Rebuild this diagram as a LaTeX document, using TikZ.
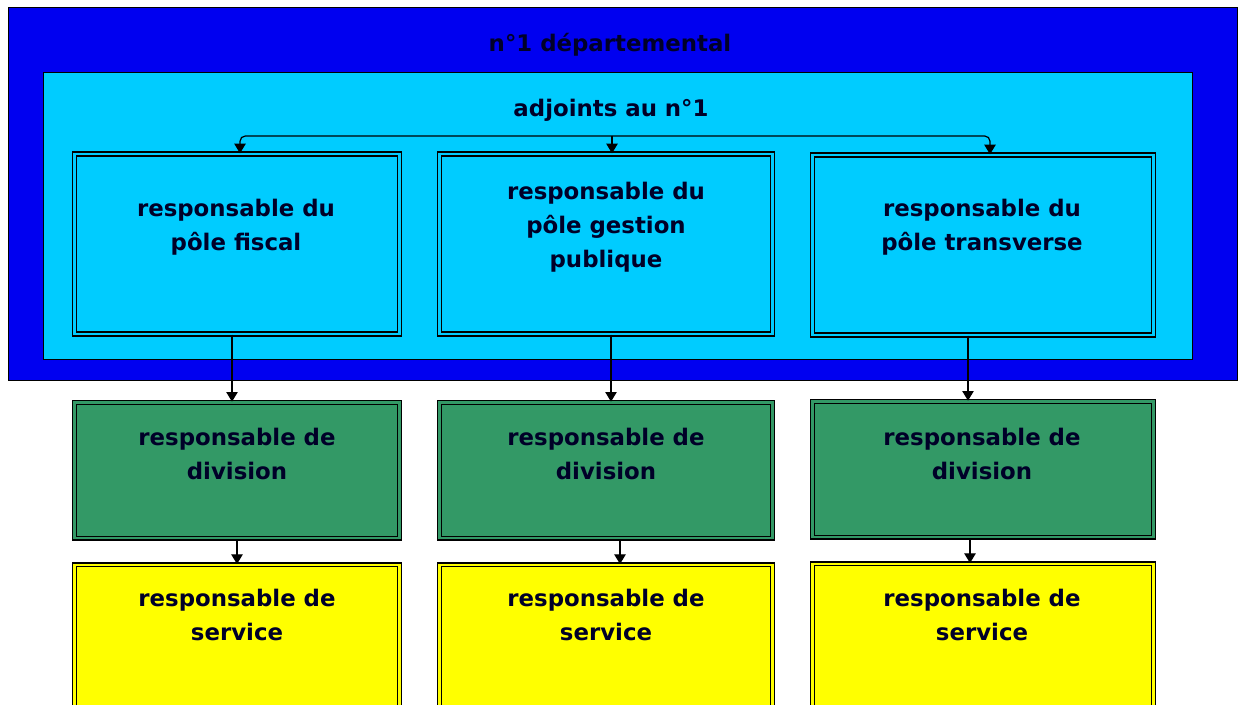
\documentclass[tikz,border=0pt]{standalone}
\usepackage{fontspec}
\setmainfont{DejaVu Sans}
\usepackage{tikz}
\usetikzlibrary{arrows.meta}
\usetikzlibrary{positioning}
\definecolor{deptblue}{RGB}{0,0,240}
\definecolor{adjcyan}{RGB}{0,204,255}
\definecolor{divgreen}{RGB}{51,153,102}
\definecolor{servyellow}{RGB}{255,255,0}
\definecolor{txtnavy}{RGB}{0,0,40}
\begin{document}
\begin{tikzpicture}[x=0.02cm,y=-0.02cm,
  every node/.style={font=\fontsize{13}{19.3}\selectfont\bfseries,text=txtnavy,align=center},
  box/.style={draw=black,line width=0.8pt,double distance=1.3pt,inner sep=0pt},
  pole/.style={box,double=adjcyan,fill=adjcyan,minimum height=3.6cm},
  div/.style={box,double=divgreen,fill=divgreen,minimum height=2.72cm},
  serv/.style={box,double=servyellow,fill=servyellow,minimum height=3.2cm},
  tri/.style={-{Triangle[length=5.5pt,width=6.5pt]},line width=0.7pt}]
  \clip (0,0) rectangle (1238,705);
  \node[draw=black,fill=deptblue,minimum width=24.58cm,minimum height=7.46cm,inner sep=0pt] (dept) at (622.5,193.5){};
  \node[draw=black,fill=adjcyan,minimum width=22.98cm,minimum height=5.74cm,inner sep=0pt] (adj) at (617.5,215.5){};
  \node (tdept) at (610,45){n°1 départemental};
  \node (tadj) at (611,110){adjoints au n°1};

  % poles
  \node[pole,minimum width=6.5cm] (pfisc) at (237,244){};
  \node[pole,minimum width=6.66cm] (pgest) at (606,244){};
  \node[pole,minimum width=6.82cm] (ptrans) at (983,245){};
  % divisions
  \node[div,minimum width=6.5cm,below=1.34cm of pfisc] (dfisc){};
  \node[div,minimum width=6.66cm,below=1.34cm of pgest] (dgest){};
  \node[div,minimum width=6.82cm,below=1.30cm of ptrans] (dtrans){};
  % services
  \node[serv,minimum width=6.5cm,below=0.5cm of dfisc] (sfisc){};
  \node[serv,minimum width=6.66cm,below=0.5cm of dgest] (sgest){};
  \node[serv,minimum width=6.82cm,below=0.5cm of dtrans] (strans){};

  \node (tpfisc) at (236,227){responsable du\\pôle fiscal};
  \node (tpgest) at (606,227){responsable du\\pôle gestion\\publique};
  \node (tptrans) at (982,227){responsable du\\pôle transverse};
  \node (tdfisc) at (237,454){responsable de\\division};
  \node (tdgest) at (606,454){responsable de\\division};
  \node (tdtrans) at (982,454){responsable de\\division};
  \node (tsfisc) at (237,615){responsable de\\service};
  \node (tsgest) at (606,615){responsable de\\service};
  \node (tstrans) at (982,615){responsable de\\service};

  \coordinate (barL) at (240,136);
  \coordinate (barM) at (612,136);
  \coordinate (barR) at (990,136);
  \draw[line width=0.7pt,{Triangle[length=5.5pt,width=6.5pt]}-{Triangle[length=5.5pt,width=6.5pt]},rounded corners=3pt] (barL |- pfisc.north) -- (barL) -- (barR) -- (barR |- ptrans.north);
  \draw[tri] (barM) -- (barM |- pgest.north);

  \draw[tri] ([xshift=-0.1cm]pfisc.south) -- ([xshift=-0.1cm]dfisc.north);
  \draw[tri] ([xshift=0.1cm]pgest.south) -- ([xshift=0.1cm]dgest.north);
  \draw[tri] ([xshift=-0.3cm]ptrans.south) -- ([xshift=-0.3cm]dtrans.north);
  \draw[tri] (dfisc) -- (sfisc);
  \draw[tri] ([xshift=0.28cm]dgest.south) -- ([xshift=0.28cm]sgest.north);
  \draw[tri] ([xshift=-0.26cm]dtrans.south) -- ([xshift=-0.26cm]strans.north);
\end{tikzpicture}
\end{document}
